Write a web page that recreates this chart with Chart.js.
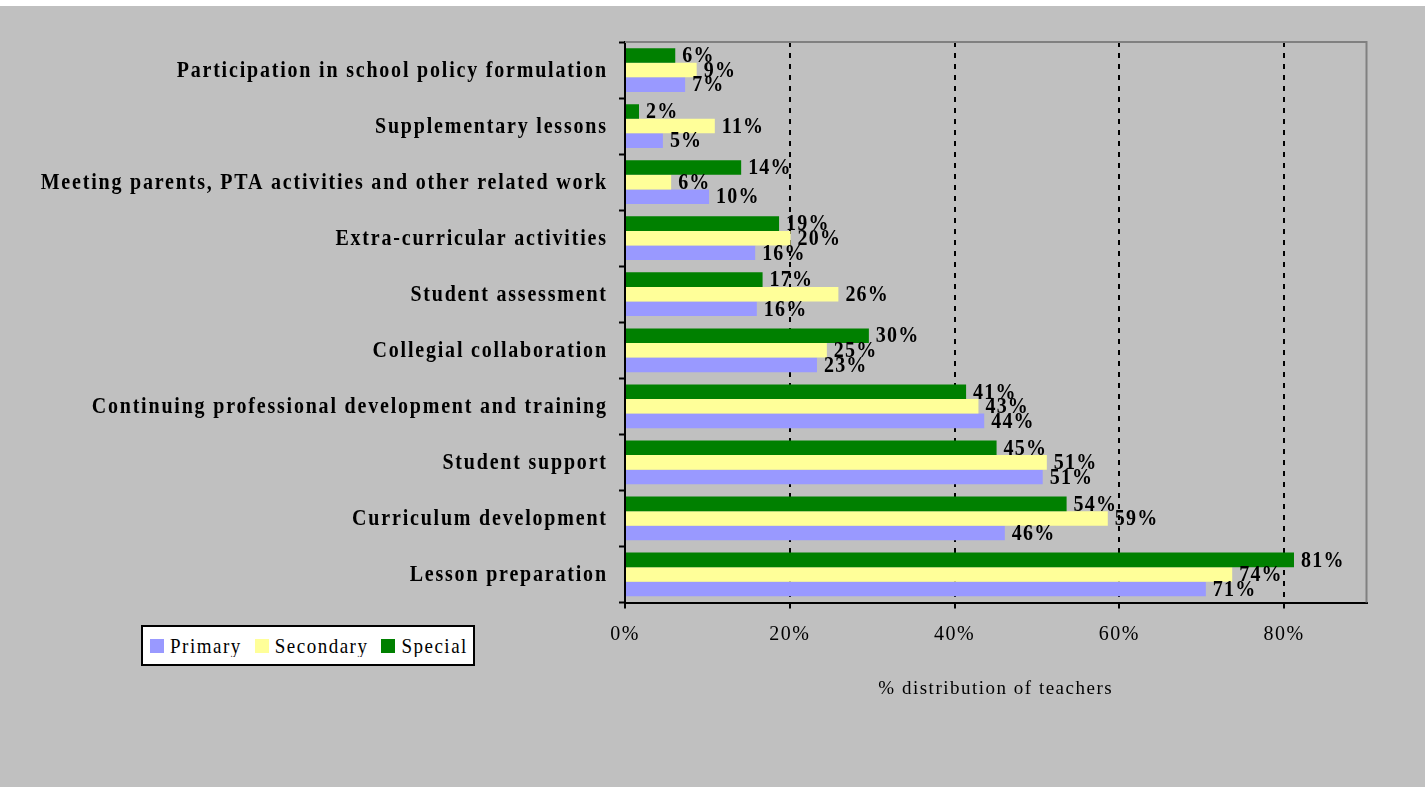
<!DOCTYPE html>
<html>
<head>
<meta charset="utf-8">
<script src="https://cdn.jsdelivr.net/npm/chart.js@4.4.1/dist/chart.umd.min.js"></script>
<style>
  html, body { margin: 0; padding: 0; background: #fff; }
  #wrap { position: absolute; left: 0; top: 6px; width: 1425px; height: 781px; background: #c0c0c0; }
  #chart_0 { position: absolute; left: 0; top: 0; }
  #legend_Box {
    position: absolute; left: 141px; top: 619px; width: 330px; height: 37px;
    background: #fff; border: 2px solid #000;
    font-family: "Liberation Serif", serif; font-size: 19px; letter-spacing: 1.5px; color: #000;
    display: flex; align-items: center;
  }
  #legend_Box span.sw { display: inline-block; width: 14px; height: 14px; margin: 0 6px 0 0; }
  #legend_Box span.it { display: inline-flex; align-items: center; margin-left: 7px; margin-right: 6px; }
  #legend_Box span.tx { display: inline-block; transform: scaleY(1.1); }
</style>
</head>
<body>
<div id="wrap">
  <canvas id="chart_0" width="1425" height="781"></canvas>
  <div id="legend_Box"></div>
</div>
<script>
"use strict";

// data
const categories = [
  "Participation in school policy formulation",
  "Supplementary lessons",
  "Meeting parents, PTA activities and other related work",
  "Extra-curricular activities",
  "Student assessment",
  "Collegial collaboration",
  "Continuing professional development and training",
  "Student support",
  "Curriculum development",
  "Lesson preparation"
];
const primary   = [7.3, 4.6, 10.2, 15.8, 16.0, 23.3, 43.6, 50.7, 46.1, 70.5];
const secondary = [8.7, 10.9, 5.6, 20.1, 25.9, 24.5, 42.9, 51.2, 58.6, 73.7];
const special   = [6.1, 1.7, 14.1, 18.7, 16.7, 29.6, 41.4, 45.1, 53.6, 81.2];
const series_Names = ["Primary", "Secondary", "Special"];
const series_Colors = ["#9999ff", "#ffff99", "#008000"];
const x_Max = 90, x_Step = 20;
const x_Title = "% distribution of teachers";

const serif = '"Liberation Serif", "Times New Roman", serif';
const stretch = 1.12; // text in the picture is a bit taller than wide

// legend (html)
let legend_Html = '';
series_Names.forEach((name, i) => {
  legend_Html += '<span class="it"><span class="sw" style="background:' + series_Colors[i] + '"></span><span class="tx">' + name + '</span></span>';
});
document.getElementById('legend_Box').innerHTML = legend_Html;

function tall_Text(ctx, text, x, y) {
  ctx.save();
  ctx.translate(x, y);
  ctx.scale(1, stretch);
  ctx.fillText(text, 0, 0);
  ctx.restore();
}

// labels, frame
const bar_Text = {
  id: 'bar_Text',
  beforeDraw(chart) { chart.ctx.letterSpacing = '1.5px'; },
  beforeDatasetsDraw(chart) {
    const ctx = chart.ctx, a = chart.chartArea;
    ctx.save();
    ctx.strokeStyle = '#808080'; ctx.lineWidth = 2;
    ctx.beginPath();
    ctx.moveTo(a.left, a.top); ctx.lineTo(a.right, a.top); ctx.lineTo(a.right, a.bottom);
    ctx.stroke();
    ctx.restore();
  },
  afterDatasetsDraw(chart) {
    const ctx = chart.ctx;
    ctx.save();
    ctx.letterSpacing = '1.2px';
    ctx.font = 'bold 20px ' + serif;
    ctx.fillStyle = '#000';
    ctx.textAlign = 'left'; ctx.textBaseline = 'middle';
    chart.data.datasets.forEach((ds, i) => {
      chart.getDatasetMeta(i).data.forEach((bar, j) => {
        tall_Text(ctx, Math.round(ds.data[j]) + '%', bar.x + 7, bar.y + 1);
      });
    });
    ctx.restore();
  },
  afterDraw(chart) {
    const ctx = chart.ctx, y = chart.scales.y;
    ctx.save();
    ctx.letterSpacing = '1.8px';
    ctx.font = 'bold 20px ' + serif;
    ctx.fillStyle = '#000';
    ctx.textAlign = 'right'; ctx.textBaseline = 'middle';
    categories.forEach((c, i) => {
      tall_Text(ctx, c, y.right - 19 + 1.8, y.getPixelForTick(i) + 1);
    });
    ctx.restore();
  }
};

const ctx = document.getElementById('chart_0');
new Chart(ctx, {
  type: 'bar',
  data: {
    labels: categories,
    datasets: [
      { label: series_Names[2], data: special,   backgroundColor: series_Colors[2] },
      { label: series_Names[1], data: secondary, backgroundColor: series_Colors[1] },
      { label: series_Names[0], data: primary,   backgroundColor: series_Colors[0] }
    ]
  },
  options: {
    indexAxis: 'y',
    responsive: false,
    animation: false,
    devicePixelRatio: 1,
    categoryPercentage: 0.78,
    barPercentage: 1,
    layout: { padding: { left: 0, top: 36, right: 58.5, bottom: 84.5 } },
    plugins: { legend: { display: false }, tooltip: { enabled: false } },
    scales: {
      x: {
        min: 0, max: x_Max,
        afterFit: (s) => { s.height = 100; },
        ticks: {
          stepSize: x_Step, includeBounds: false, padding: 14,
          color: '#000', font: { family: serif, size: 20 },
          callback: (v) => v + '%'
        },
        grid: {
          color: (c) => (c.tick && c.tick.value === 0) ? 'rgba(0,0,0,0)' : '#000',
          lineWidth: 2, tickLength: 6, tickColor: '#000', tickWidth: 2, tickBorderDash: []
        },
        border: { display: true, color: '#000', width: 2, dash: [5, 6] },
        title: {
          display: true, text: x_Title, color: '#000',
          font: { family: serif, size: 19 }, padding: { top: 0, bottom: 2 }
        }
      },
      y: {
        afterFit: (s) => { s.width = 625; },
        ticks: { display: false },
        grid: {
          offset: true, drawOnChartArea: false, drawTicks: true,
          tickLength: 6, tickColor: '#000', tickWidth: 2
        },
        border: { display: true, color: '#000', width: 2 }
      }
    }
  },
  plugins: [bar_Text]
});
</script>
</body>
</html>
